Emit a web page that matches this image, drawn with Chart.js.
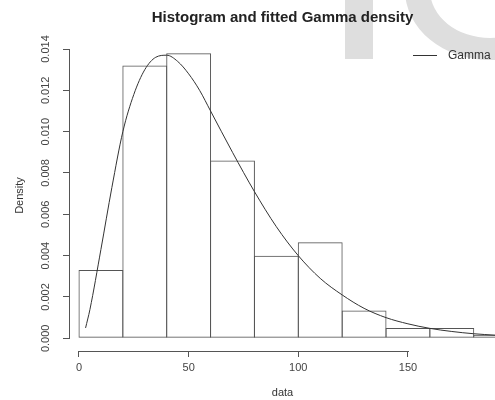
<!DOCTYPE html>
<html><head><meta charset="utf-8">
<script src="https://cdn.jsdelivr.net/npm/chart.js@4/dist/chart.umd.min.js"></script>
<style>html,body{margin:0;padding:0;background:#fff}</style>
</head><body>
<canvas id="c" width="495" height="400"></canvas>
<script>
// ---- data ----
const binStarts = [0, 20, 40, 60, 80, 100, 120, 140, 160, 180];
const binWidth = 20;
const densities = [0.0033, 0.0132, 0.0138, 0.0086, 0.0040, 0.00465, 0.00134, 0.0005, 0.0005, 0.00017];
const curveX = [3, 5, 10, 15, 20, 25, 30, 35, 40, 45, 50, 55, 60, 70, 80, 90, 100, 110, 120, 130, 140, 150, 160, 170, 180, 190];
const curveY = [0.0005, 0.0014, 0.0043, 0.0073, 0.0100, 0.0118, 0.0130, 0.0136, 0.0137, 0.0134, 0.0128, 0.0120, 0.0110, 0.0090, 0.0071, 0.0054, 0.0040, 0.0029, 0.0021, 0.00145, 0.0010, 0.0007, 0.00048, 0.00033, 0.00022, 0.00015];
const xTicks = [0, 50, 100, 150];
const yTicks = [0, 0.002, 0.004, 0.006, 0.008, 0.010, 0.012, 0.014];
const titleText = 'Histogram and fitted Gamma density';
const xTitle = 'data';
const yTitle = 'Density';
const curveLabel = 'Gamma';

Chart.defaults.font.family = "'Liberation Sans', Arial, sans-serif";

const barData = binStarts.map((s, i) => ({ x: s + binWidth / 2, y: densities[i] }));
const curveData = curveX.map((x, i) => ({ x: x, y: curveY[i] }));

const watermark = {
  id: 'watermark',
  beforeDraw(chart) {
    const c = chart.ctx;
    c.save();
    c.fillStyle = '#dedede';
    c.fillRect(345, 0, 28, 59);
    c.beginPath();
    c.ellipse(490, -10, 85, 70, 0, 0, Math.PI * 2);
    c.ellipse(490, -10, 60, 48, 0, 0, Math.PI * 2);
    c.fill('evenodd');
    c.restore();
  }
};

const rAxes = {
  id: 'rAxes',
  afterDraw(chart) {
    const c = chart.ctx, xs = chart.scales.x, ys = chart.scales.y;
    c.save();
    c.strokeStyle = '#555';
    c.lineWidth = 1;
    c.beginPath();
    const yb = Math.round(chart.chartArea.bottom) + 0.5;
    c.moveTo(Math.round(xs.getPixelForValue(xTicks[0])), yb);
    c.lineTo(Math.round(xs.getPixelForValue(xTicks[xTicks.length - 1])) + 1, yb);
    const xl = Math.round(chart.chartArea.left) - 0.5;
    c.moveTo(xl, Math.round(ys.getPixelForValue(yTicks[0])) + 1);
    c.lineTo(xl, Math.round(ys.getPixelForValue(yTicks[yTicks.length - 1])));
    c.stroke();
    // legend
    const ds = chart.data.datasets[1];
    c.strokeStyle = ds.borderColor;
    c.beginPath();
    c.moveTo(413, 55.5);
    c.lineTo(437, 55.5);
    c.stroke();
    c.fillStyle = '#333';
    c.font = "12px 'Liberation Sans', Arial, sans-serif";
    c.textBaseline = 'middle';
    c.textAlign = 'left';
    c.fillText(ds.label, 448, 56);
    c.restore();
  }
};

const tickFont = { size: 11 };

new Chart(document.getElementById('c'), {
  type: 'bar',
  data: {
    datasets: [
      {
        type: 'bar',
        label: 'Histogram',
        data: barData,
        backgroundColor: 'rgba(0,0,0,0)',
        borderColor: '#555',
        borderWidth: 1,
        borderSkipped: false,
        barPercentage: 1.0228,
        categoryPercentage: 1,
        order: 1
      },
      {
        type: 'line',
        label: curveLabel,
        data: curveData,
        borderColor: '#333',
        borderWidth: 1,
        pointRadius: 0,
        fill: false,
        cubicInterpolationMode: 'monotone',
        order: 0
      }
    ]
  },
  options: {
    responsive: false,
    animation: false,
    devicePixelRatio: 1,
    layout: { padding: 0 },
    plugins: {
      legend: { display: false },
      tooltip: { enabled: false },
      title: {
        display: true,
        text: titleText,
        fullSize: false,
        color: '#222',
        font: { size: 15, weight: 'bold' },
        padding: { top: 9, bottom: 13 }
      }
    },
    scales: {
      x: {
        type: 'linear',
        min: -4.1,
        max: 189.7,
        offset: false,
        border: { display: false },
        grid: { drawOnChartArea: false, drawTicks: true, tickLength: 6, color: '#555', offset: false },
        ticks: { font: tickFont, color: '#444', padding: 4, autoSkip: false, callback: v => String(v) },
        afterBuildTicks: s => { s.ticks = xTicks.map(v => ({ value: v })); },
        afterFit: s => { s.height = 49; },
        title: { display: true, text: xTitle, color: '#333', font: { size: 11 }, padding: { top: 0, bottom: 0.4 } }
      },
      y: {
        type: 'linear',
        min: -0.000615,
        max: 0.014436,
        border: { display: false },
        grid: { drawOnChartArea: false, drawTicks: true, tickLength: 7, color: '#555' },
        ticks: { font: tickFont, color: '#444', minRotation: 90, maxRotation: 90, crossAlign: 'center', padding: 3, autoSkip: false, callback: v => v.toFixed(3) },
        afterBuildTicks: s => { s.ticks = yTicks.map(v => ({ value: v })); },
        afterFit: s => { s.width = 70; },
        title: { display: true, text: yTitle, color: '#333', font: { size: 11 }, padding: { top: 13.4, bottom: 0 } }
      }
    }
  },
  plugins: [watermark, rAxes]
});
</script>
</body></html>
